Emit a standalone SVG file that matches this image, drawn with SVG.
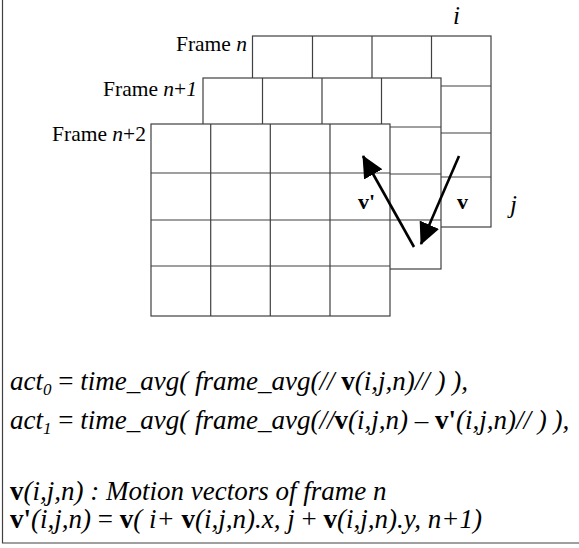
<svg xmlns="http://www.w3.org/2000/svg" width="579" height="548" viewBox="0 0 579 548">
<style>
  .grid { fill: #ffffff; stroke: #404040; stroke-width: 1.2; }
  .gl { stroke: #404040; stroke-width: 1.2; fill: none; }
  .lbl { font-family: "Liberation Serif", "Times New Roman", serif; font-size: 21.5px; fill: #000; }
  .f { font-family: "Liberation Serif", "Times New Roman", serif; font-size: 27px; font-style: italic; fill: #000; }
  .b { font-weight: bold; font-style: normal; }
  .u { font-style: normal; }
  .it { font-style: italic; }
  .vec { stroke: #000; stroke-width: 2.6; fill: none; }
  .vl { font-family: "Liberation Serif", "Times New Roman", serif; font-size: 22px; font-weight: bold; fill: #000; }
  .ax { font-family: "Liberation Serif", "Times New Roman", serif; font-size: 25px; font-style: italic; fill: #000; }
</style>
<defs>
  <marker id="head" viewBox="0 0 22 21" refX="21" refY="10.5" markerWidth="22" markerHeight="21" markerUnits="userSpaceOnUse" orient="auto">
    <path d="M0,0 L22,10.5 L0,21 Z" fill="#000"/>
  </marker>
</defs>

<!-- border -->
<path class="gl" d="M2.5,0 V543 H579" stroke-width="1.6"/>

<!-- Frame n -->
<g id="frame-n">
  <rect class="grid" x="252.5" y="36" width="238.5" height="191"/>
  <path class="gl" d="M312.5,36 V227 M372,36 V227 M431.5,36 V227 M252.5,86 H491 M252.5,133 H491 M252.5,177 H491"/>
  <text class="lbl" x="247" y="51" text-anchor="end">Frame <tspan class="it">n</tspan></text>
</g>

<!-- Frame n+1 -->
<g id="frame-n1">
  <rect class="grid" x="203" y="78" width="238" height="191"/>
  <path class="gl" d="M262.5,78 V269 M322,78 V269 M381.5,78 V269 M203,127 H441 M203,174 H441 M203,220 H441"/>
  <text class="lbl" x="197" y="96" text-anchor="end">Frame <tspan class="it">n</tspan>+<tspan class="it">1</tspan></text>
</g>

<!-- Frame n+2 -->
<g id="frame-n2">
  <rect class="grid" x="151" y="124" width="239" height="192"/>
  <path class="gl" d="M210.7,124 V316 M270.3,124 V316 M330,124 V316 M151,173 H390 M151,220 H390 M151,266 H390"/>
  <text class="lbl" x="146" y="141" text-anchor="end">Frame <tspan class="it">n</tspan>+2</text>
</g>

<!-- axis labels -->
<g id="axes">
  <text class="ax" x="453" y="24">i</text>
  <text class="ax" x="510" y="213">j</text>
</g>

<!-- vectors -->
<g id="connectors">
  <line class="vec" x1="414" y1="247" x2="363" y2="156" marker-end="url(#head)"/>
  <line class="vec" x1="459" y1="156" x2="421" y2="244" marker-end="url(#head)"/>
</g>
<g id="vector-labels">
  <text class="vl" x="358" y="209">v'</text>
  <text class="vl" x="457" y="209">v</text>
</g>

<!-- formulas -->
<g id="formulas">
  <text class="f" x="10" y="390">act<tspan font-size="17" dy="5">0</tspan><tspan class="u" dy="-5"> = </tspan>time_avg( frame_avg(// <tspan class="b">v</tspan>(i,j,n)// ) ),</text>
  <text class="f" x="10" y="429">act<tspan font-size="17" dy="5">1</tspan><tspan class="u" dy="-5"> = </tspan>time_avg( frame_avg(//<tspan class="b">v</tspan>(i,j,n) <tspan class="u">–</tspan> <tspan class="b">v'</tspan>(i,j,n)// ) ),</text>
  <text class="f" x="10" y="500"><tspan class="b">v</tspan>(i,j,n) : Motion vectors of frame n</text>
  <text class="f" x="10" y="528"><tspan class="b">v'</tspan>(i,j,n) <tspan class="u">=</tspan> <tspan class="b">v</tspan>( i+ <tspan class="b">v</tspan>(i,j,n).x, j <tspan class="u">+</tspan> <tspan class="b">v</tspan>(i,j,n).y, n+1)</text>
</g>
</svg>
